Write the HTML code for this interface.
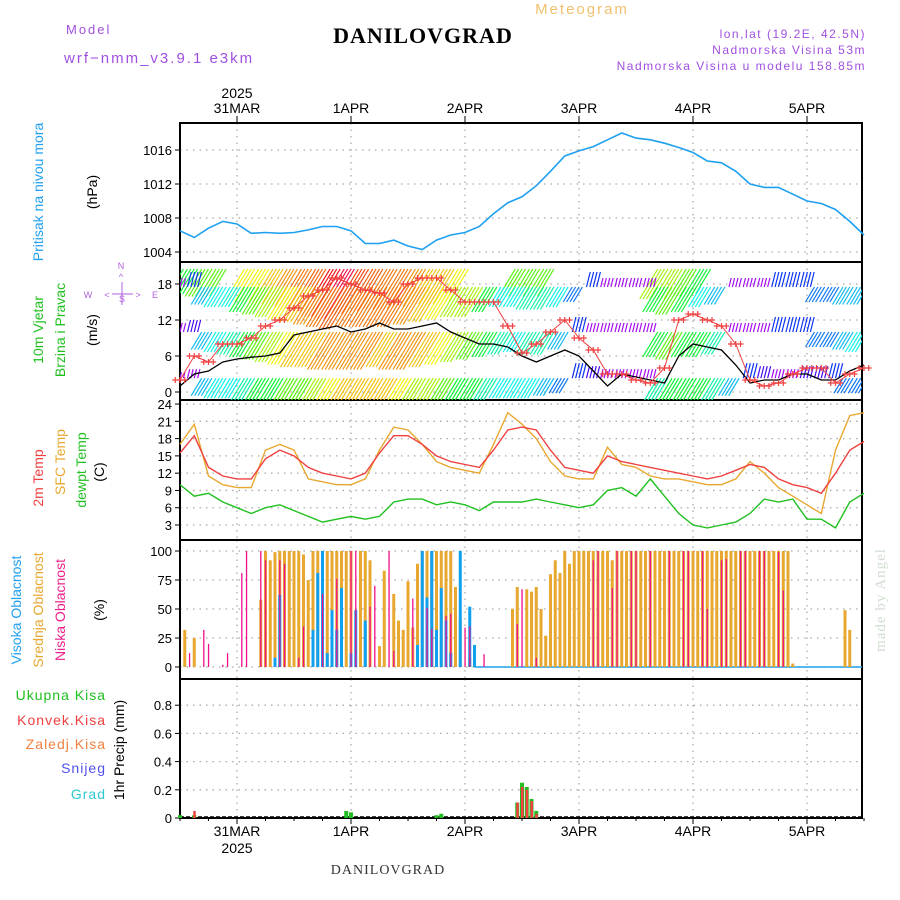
<!DOCTYPE html>
<html><head><meta charset="utf-8">
<style>
html,body{margin:0;padding:0;background:#fff;}
svg{display:block;font-family:"Liberation Sans",sans-serif;}
</style></head>
<body>
<svg id="chart" width="900" height="900" viewBox="0 0 900 900" xmlns="http://www.w3.org/2000/svg">
<defs>
<clipPath id="clipWind"><rect x="180" y="262" width="682" height="138"/></clipPath>
</defs>
<rect x="0" y="0" width="900" height="900" fill="#fff"/>
<text x="582" y="14" font-size="15" fill="#f0c070" text-anchor="middle" letter-spacing="2">Meteogram</text>
<text x="66" y="34" font-size="13" fill="#a050e0" letter-spacing="2">Model</text>
<text x="64" y="63" font-size="15" fill="#a050e0" letter-spacing="2">wrf−nmm_v3.9.1 e3km</text>
<text x="423" y="43" font-size="22" font-weight="bold" font-family="Liberation Serif,serif" text-anchor="middle" fill="#000" letter-spacing="1">DANILOVGRAD</text>
<text x="866" y="38" font-size="12" fill="#a050e0" text-anchor="end" letter-spacing="1.5">lon,lat (19.2E, 42.5N)</text>
<text x="866" y="54" font-size="12" fill="#a050e0" text-anchor="end" letter-spacing="1.5">Nadmorska Visina 53m</text>
<text x="866" y="70" font-size="12" fill="#a050e0" text-anchor="end" letter-spacing="1.5">Nadmorska Visina u modelu 158.85m</text>
<g id="axes"></g>
<g id="marks"></g>
<g id="labels" font-size="14">
  <text transform="translate(43,192) rotate(-90)" text-anchor="middle" fill="#20a0f0">Pritisak na nivou mora</text>
  <text transform="translate(97,192) rotate(-90)" text-anchor="middle" fill="#000">(hPa)</text>
  <text transform="translate(43,330) rotate(-90)" text-anchor="middle" fill="#20c020">10m Vjetar</text>
  <text transform="translate(65,330) rotate(-90)" text-anchor="middle" fill="#20c020">Brzina i Pravac</text>
  <text transform="translate(97,330) rotate(-90)" text-anchor="middle" fill="#000">(m/s)</text>
  <g fill="#b060e0" font-size="9" text-anchor="middle">
    <text x="121" y="269">N</text><text x="121" y="280">^</text><text x="122" y="302">S</text>
    <text x="88" y="298">W</text><text x="155" y="298">E</text>
    <text x="107" y="298">&lt;</text><text x="138" y="298">&gt;</text>
    <line x1="112" y1="294" x2="133" y2="294" stroke="#b060e0"/>
    <line x1="122" y1="282" x2="122" y2="305" stroke="#b060e0"/>
  </g>
  <text transform="translate(43,478) rotate(-90)" text-anchor="middle" fill="#f04040">2m Temp</text>
  <text transform="translate(65,462) rotate(-90)" text-anchor="middle" fill="#e8a830">SFC Temp</text>
  <text transform="translate(86,470) rotate(-90)" text-anchor="middle" fill="#20c020">dewpt Temp</text>
  <text transform="translate(104,472) rotate(-90)" text-anchor="middle" fill="#000">(C)</text>
  <text transform="translate(21,610) rotate(-90)" text-anchor="middle" fill="#20a0f0">Visoka Oblacnost</text>
  <text transform="translate(43,610) rotate(-90)" text-anchor="middle" fill="#e8a830">Srednja Oblacnost</text>
  <text transform="translate(65,610) rotate(-90)" text-anchor="middle" fill="#f0208a">Niska Oblacnost</text>
  <text transform="translate(104,610) rotate(-90)" text-anchor="middle" fill="#000">(%)</text>
  <text transform="translate(124,750) rotate(-90)" text-anchor="middle" fill="#000">1hr Precip (mm)</text>
  <g font-size="14" text-anchor="end" letter-spacing="1">
    <text x="106" y="700" fill="#20c020">Ukupna Kisa</text>
    <text x="106" y="725" fill="#f04040">Konvek.Kisa</text>
    <text x="106" y="749" fill="#f08040">Zaledj.Kisa</text>
    <text x="106" y="773" fill="#5050f0">Snijeg</text>
    <text x="106" y="799" fill="#30c8d0">Grad</text>
  </g>
  <text transform="translate(885,600) rotate(-90)" text-anchor="middle" fill="#d0ddd0" font-family="Liberation Serif,serif" font-size="15" letter-spacing="1">made by Angel</text>
  <text x="388" y="874" text-anchor="middle" fill="#333" font-family="Liberation Serif,serif" font-size="14" letter-spacing="1">DANILOVGRAD</text>
</g>
</svg>
<script>
// ---------- data (3-hourly from 30 Mar 12Z) ----------
const dayLabels = ["31MAR","1APR","2APR","3APR","4APR","5APR"];
const pressureTicks = [1004,1008,1012,1016];
const windTicks = [0,6,12,18];
const tempTicks = [3,6,9,12,15,18,21,24];
const cloudTicks = [0,25,50,75,100];
const precipTicks = [0.2,0.4,0.6,0.8];
const pressure = [1006.5,1005.7,1006.8,1007.6,1007.3,1006.2,1006.3,1006.2,1006.3,1006.6,1007,1007,1006.5,1005,1005,1005.4,1004.7,1004.3,1005.4,1006,1006.3,1007,1008.5,1009.8,1010.5,1011.8,1013.5,1015.3,1015.9,1016.4,1017.2,1018,1017.4,1017.2,1016.8,1016.3,1015.7,1014.7,1014.5,1013.5,1012,1011.6,1011.6,1010.8,1010,1009.7,1009,1007.6,1006];
const windSpeed = [1,3,3.5,5,5.5,5.8,6,6.5,9.5,10,10.5,11,10,10.5,11.5,10.5,10.5,11,11.5,10,9,8,8,7.5,6,5,6,7,6,3.5,1,3,2.5,2,1.5,6,8,7.5,7,4.5,1.5,2,2,3,3,2,2,3.5,4.5];
const windGust = [2,6,5,8,8,9,11,12,14,16,17,19,18,17,16.5,15,18,19,19,17,15,15,15,11,6.5,8,10,12,9,7,3,3,2,1.5,4,12,13,12,11,8,2,1,1.5,3,4,4,1.5,3,4];
const windRowA = [10,10,11,11,0,13,13,14,15,16,17,19,20,18,17,16,16,15,14,14,13,0,0,0,11,11,11,0,0,0,0,0,0,0,12,12,11,10,0,0,0,0,0,0,0,0,0,0,0];
const windRowB = [3,5,7,8,8,10,11,12,13,14,15,16,17,16,16,16,16,15,14,13,12,12,10,8,8,9,9,8,6,5,3,3,3,3,10,11,10,8,7,3,3,3,5,5,5,6,6,7,7];
const windRowC = [3,4,7,8,9,10,11,12,13,14,14,15,15,15,15,14,15,15,14,13,12,11,10,9,8,9,9,7,5,3,3,3,3,3,10,11,10,10,9,3,3,3,5,5,5,6,6,7,8];
const windRowD = [2,3,7,8,8,9,10,10,11,11,12,13,14,14,14,14,13,12,12,11,10,10,9,8,8,8,7,6,5,4,3,3,3,3,9,10,10,10,9,7,5,4,3,3,4,4,5,6,6];
const windRowLevels = [20.5,17.5,10,2.3];
const temp2m = [15.5,18.5,13,11.5,11,11,14.5,16,15,13,12,11.5,11,12,15.5,18.5,18.5,17,15,14,13.5,13,16,19.5,20,19.5,16,13,12.5,12,15,14,13.5,13,12.5,12,11.5,11,11.5,12.5,13.5,13,11,10,9.5,8.5,12,16,17.5];
const tempSfc = [17,20.5,11.5,10,9.5,9.5,16,17,16,11,10.5,10,10,11,16,20,19.5,17,14,13,12.5,12,17,22.5,20.5,18,14,11.5,11,11,16.5,13.5,13,11.5,11,11,10.5,10,10,11,14,12,9.5,8,6.5,5,16,22,22.5];
const tempDew = [10,8,8.5,7,6,5,6,6.5,5.5,4.5,3.5,4,4.5,4,4.5,7,7.5,7.5,6.5,7,6.5,5.5,7,7,7,7.5,7,6.5,6,6.5,9,9.5,8,11,8,5,3,2.5,3,3.5,5,7.5,7,7.5,4,4,2.5,7,8.5];
// hourly cloud cover (hour index, percent)
const cloudMidHours = [1,3,17,18,19,20,21,22,23,24,25,26,27,28,29,30,31,32,33,34,35,36,38,39,40,42,43,45,46,47,48,49,50,51,52,53,54,55,56,57,58,59,61,70,71,73,74,75,76,77,78,79,80,81,82,83,84,85,86,87,88,89,90,91,92,93,94,95,96,97,98,99,100,101,102,103,104,105,106,107,108,109,110,111,112,113,114,115,116,117,118,119,120,121,122,123,124,125,126,127,128,129,140,141];
const cloudMidValues = [32,25,58,100,92,99,100,100,100,100,100,97,75,100,100,100,100,100,100,100,100,100,100,100,92,18,83,63,40,32,74,34,89,100,100,100,100,100,100,100,69,40,8,50,69,67,65,69,50,27,80,92,81,100,89,100,100,100,100,100,100,100,100,92,100,100,100,100,100,100,100,100,100,100,100,100,100,100,100,100,100,100,100,100,100,100,100,100,100,100,100,100,100,100,100,100,100,100,100,100,100,3,49,32];
const cloudLowHours = [2,5,6,9,10,13,14,17,18,21,22,25,26,30,33,36,37,40,41,44,45,49,52,53,56,57,60,61,64,71,72,75,87,88,91,92,95,96,99,103,106,107,110,111,114,115,118,119,122,123,126,127];
const cloudLowValues = [12,32,20,2,12,81,100,100,92,92,89,8,35,63,76,100,100,52,70,100,14,59,51,33,44,46,34,35,11,37,67,8,92,100,68,100,100,100,100,100,100,100,100,50,92,93,100,100,100,100,99,66];
const cloudHighHours = [20,21,28,29,30,31,32,33,34,36,37,39,50,51,52,53,54,55,56,57,59,61,62];
const cloudHighValues = [8,62,32,81,100,12,49,32,68,12,49,40,19,100,60,100,32,68,40,12,100,52,19];
const precipHours = [0,3,35,36,54,55,71,72,73,74,75];
const precipTotal = [0.02,0.02,0.05,0.04,0.02,0.03,0.11,0.25,0.22,0.135,0.05];
const precipConv = [0,0.05,0,0,0,0,0.11,0.22,0.2,0.12,0.03];

// ---------- axes functions ----------
const X0=180, X1=862, PXH=4.75;
const xH = h => X0 + h*PXH;
const xI = i => xH(i*3);
const xDay = d => xH(12 + 24*d);
const yP = v => 252 - (v-1004)*8.5;
const yW = v => 392 - v*6;
const yT = v => 525 - (v-3)*5.76;
const yC = v => 667 - v*1.16;
const yR = v => 818 - v*141;
const panels = [[123,262],[262,400],[400,540],[540,679],[679,818]];
const NS="http://www.w3.org/2000/svg";
function el(tag, attrs, parent){const e=document.createElementNS(NS,tag);for(const k in attrs)e.setAttribute(k,attrs[k]);parent.appendChild(e);return e;}
const axes=document.getElementById('axes'), marks=document.getElementById('marks');

// grids
const grid=el('g',{stroke:'#aaa','stroke-dasharray':'1.5,5','stroke-width':1.3},axes);


panels.forEach(p=>{dayLabels.forEach((d,i)=>{el('line',{x1:xDay(i),x2:xDay(i),y1:p[0],y2:p[1]},grid);});});
pressureTicks.forEach(v=>el('line',{x1:X0,x2:X1,y1:yP(v),y2:yP(v)},grid));
windTicks.forEach(v=>el('line',{x1:X0,x2:X1,y1:yW(v),y2:yW(v)},grid));
tempTicks.forEach(v=>el('line',{x1:X0,x2:X1,y1:yT(v),y2:yT(v)},grid));
cloudTicks.forEach(v=>el('line',{x1:X0,x2:X1,y1:yC(v),y2:yC(v)},grid));
precipTicks.forEach(v=>el('line',{x1:X0,x2:X1,y1:yR(v),y2:yR(v)},grid));

// tick labels
function yticks(ticks,f,name,fmt){
  const g=el('g',{'font-size':13,'text-anchor':'end',fill:'#000'},axes);
  
  
  ticks.forEach(v=>{el('line',{x1:X0-5,x2:X0,y1:f(v),y2:f(v),stroke:'#000'},g);const t=el('text',{x:X0-8,y:f(v)+5},g);t.textContent=fmt?fmt(v):v;});
}
yticks(pressureTicks,yP,'pressure-y-ticks');
yticks(windTicks,yW,'wind-y-ticks');
yticks(tempTicks,yT,'temp-y-ticks');
yticks(cloudTicks,yC,'cloud-y-ticks');
yticks([0].concat(precipTicks),yR,'precip-y-ticks',v=>v===0?'0':v.toFixed(1));
const xt=el('g',{'font-size':14,'text-anchor':'middle',fill:'#000'},axes);


dayLabels.forEach((d,i)=>{
  const t=el('text',{x:xDay(i),y:113},xt);t.textContent=d;
  const b=el('text',{x:xDay(i),y:836},xt);b.textContent=d;
  el('line',{x1:xDay(i),x2:xDay(i),y1:116,y2:123,stroke:'#000'},xt);
  el('line',{x1:xDay(i),x2:xDay(i),y1:818,y2:824,stroke:'#000'},xt);
});
{const t=el('text',{x:xDay(0),y:98},xt);t.textContent='2025';const b=el('text',{x:xDay(0),y:853},xt);b.textContent='2025';}
for(let h=0;h<=144;h+=6){el('line',{x1:xH(h),x2:xH(h),y1:818,y2:821,stroke:'#000'},xt);}
panels.forEach(p=>{const r=el('rect',{x:X0,y:p[0],width:X1-X0,height:p[1]-p[0],fill:'none',stroke:'#000','stroke-width':2},axes);});

// ---------- series ----------
function line(vals,f,color,name,w){
  const p=el('polyline',{points:vals.map((v,i)=>xI(i).toFixed(1)+','+f(v).toFixed(1)).join(' '),fill:'none',stroke:color,'stroke-width':w||1.5},marks);
  
  
  return p;
}
line(pressure,yP,'#1ea0f0','pressure-line',1.6);

// wind barbs
function hueFor(s){const st=[[3,280],[5,230],[7,195],[9,160],[11,100],[13,60],[15,35],[18,15],[21,-30]];
  if(s<=st[0][0])return st[0][1];for(let i=1;i<st.length;i++){if(s<=st[i][0]){const a=st[i-1],b=st[i];return a[1]+(b[1]-a[1])*(s-a[0])/(b[0]-a[0]);}}return -30;}
const wg=el('g',{'clip-path':'url(#clipWind)','stroke-width':1.2},marks);


[windRowA,windRowB,windRowC,windRowD].forEach((row,ri)=>{
  const yb=yW(windRowLevels[ri]);
  row.forEach((s,i)=>{
    if(!s)return;
    const col='hsl('+((hueFor(s)+360)%360)+',90%,50%)';
    [-1.5,-0.75,0,0.75].forEach(o=>{
      const x=xI(i)+o*PXH*0.95;
      if(s<=5){const L=s*3;const b=el('line',{x1:x,y1:yb,x2:x+L*0.25,y2:yb-L,stroke:col},wg);}
      else{const L=s*2.5;const b=el('line',{x1:x,y1:yb,x2:x-L*0.6,y2:yb+L,stroke:col},wg);}
    });
  });
});
line(windSpeed,yW,'#000','wind-speed-line',1.3);
line(windGust,yW,'#f04040','wind-gust-line',1);
const gm=el('g',{stroke:'#f04040','stroke-width':1.2},marks);


windGust.forEach((v,i)=>{[-1,0,1].forEach(o=>{const x=xI(i)+o*PXH,y=yW(v);el('path',{d:`M${x-3} ${y}h6M${x} ${y-3}v6`},gm);});});

line(tempSfc,yT,'#e8a830','temp-sfc-line',1.4);
line(temp2m,yT,'#f04040','temp-2m-line',1.4);
line(tempDew,yT,'#20c020','temp-dewpt-line',1.4);

// clouds
const cg=el('g',{},marks);


el('line',{x1:xH(62),x2:X1,y1:yC(0),y2:yC(0),stroke:'#20a0f0','stroke-width':1.5},cg);
cloudMidHours.forEach((h,i)=>{const v=cloudMidValues[i];const r=el('rect',{x:xH(h)-1.5,y:yC(v),width:3,height:yC(0)-yC(v),fill:'#e8a830'},cg);});
cloudHighHours.forEach((h,i)=>{const v=cloudHighValues[i];const r=el('rect',{x:xH(h)-1.5,y:yC(v),width:3,height:yC(0)-yC(v),fill:'#10a0f0'},cg);});
cloudLowHours.forEach((h,i)=>{const v=cloudLowValues[i];const r=el('rect',{x:xH(h)-0.6,y:yC(v),width:1.3,height:yC(0)-yC(v),fill:'#f0108a'},cg);});

// precip
const pg=el('g',{},marks);


el('line',{x1:X0,x2:X1,y1:817,y2:817,stroke:'#000','stroke-width':1.5,'stroke-dasharray':'4,2'},pg);
precipHours.forEach((h,i)=>{
  const t=precipTotal[i],c=precipConv[i];
  const r=el('rect',{x:xH(h)-2,y:yR(t),width:4,height:818-yR(t),fill:'#20c020'},pg);
  
  
  if(c>0){const q=el('rect',{x:xH(h)-1,y:yR(c),width:2.5,height:818-yR(c),fill:'#f04040'},pg);
  
  }
});
</script>
</body></html>
